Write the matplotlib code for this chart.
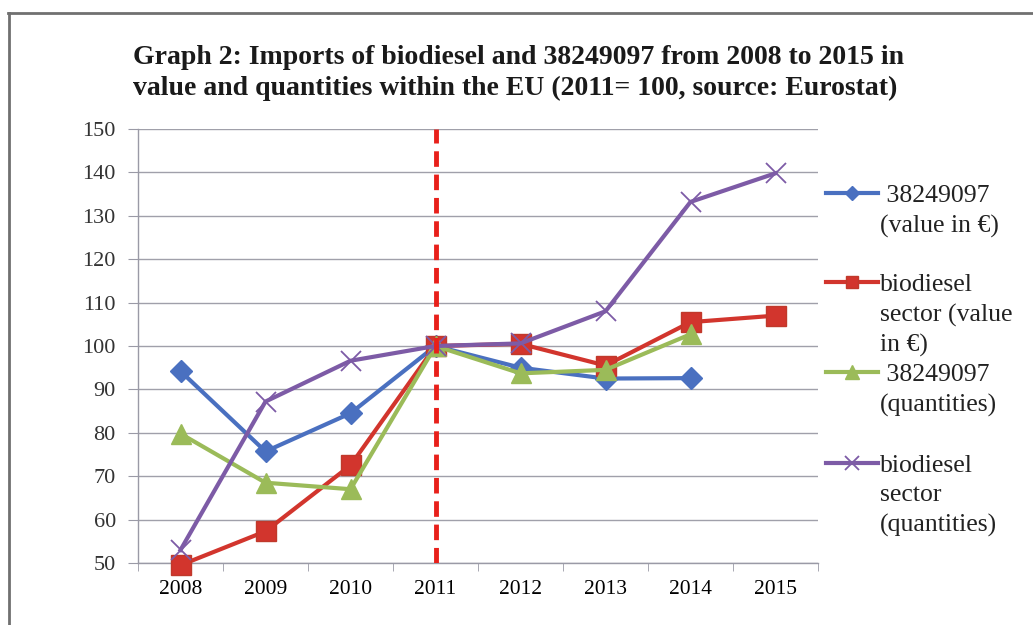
import matplotlib
matplotlib.use("Agg")
import matplotlib.pyplot as plt
from matplotlib.lines import Line2D
import numpy as np

years = ["2008", "2009", "2010", "2011", "2012", "2013", "2014", "2015"]
val_382 = [94.2, 75.7, 84.5, 100.0, 95.0, 92.5, 92.6, None]
val_bio = [49.5, 57.3, 72.5, 100.0, 100.5, 95.5, 105.5, 107.0]
qty_382 = [79.8, 68.5, 67.0, 100.0, 93.7, 94.5, 102.7, None]
qty_bio = [53.0, 87.2, 96.6, 100.0, 100.6, 108.0, 133.2, 139.8]
labels = [" 38249097\n(value in €)", "biodiesel\nsector (value\nin €)",
          " 38249097\n(quantities)", "biodiesel\nsector\n(quantities)"]
title = ("Graph 2: Imports of biodiesel and 38249097 from 2008 to 2015 in\n"
         "value and quantities within the EU (2011= 100, source: Eurostat)")
ref_year = "2011"

SERIF = ["Liberation Serif", "DejaVu Serif"]
plt.rcParams["font.family"] = SERIF

W, H = 1033, 625
fig = plt.figure(figsize=(W / 100, H / 100), dpi=100)
ax = fig.add_axes([138 / W, 1 - 563 / H, (818 - 138) / W, (563 - 129) / H])

x = np.arange(len(years))
def arr(v):
    return np.array([np.nan if a is None else a for a in v], dtype=float)

styles = [
    dict(color="#4A70C0", marker="D", ms=11, mec="#4A70C0", mew=1),
    dict(color="#D2352D", marker="s", ms=14, mec="#C0392B", mew=1),
    dict(color="#9BBB59", marker="^", ms=15, mec="#9BBB59", mew=1),
    dict(color="#7D5BA6", marker="x", ms=15, mec="#7D5BA6", mew=1.3),
]
series = [val_382, val_bio, qty_382, qty_bio]
for s, st in zip(series, styles):
    ax.plot(x, arr(s), lw=3, clip_on=False, zorder=3, **st)

ax.axvline(years.index(ref_year), color="#E8201A", lw=3.5, ls=(0, (3.2, 1.6)), zorder=4)

ax.set_xlim(-0.5, len(years) - 0.5)
ax.set_ylim(50, 150)
ax.set_yticks(np.arange(50, 151, 10))
ax.set_xticks(x)
ax.set_xticklabels(years)
ax.set_xticks(np.arange(-0.5, len(years), 1), minor=True)
ax.tick_params(axis="x", which="major", length=0, pad=12, labelsize=15.5)
ax.tick_params(axis="x", which="minor", length=6, color="#9A9AA6", direction="out")
ax.tick_params(axis="y", length=7, color="#9A9AA6", labelsize=16, pad=9)
for lab in ax.get_yticklabels():
    lab.set_color("#333333")
ax.grid(axis="y", color="#A0A0AA", lw=1)
ax.set_axisbelow(True)
for sp in ["top", "right"]:
    ax.spines[sp].set_visible(False)
for sp in ["left", "bottom"]:
    ax.spines[sp].set_color("#9A9AA6")
    ax.spines[sp].set_linewidth(1)

fig.text(133 / W, 1 - 45 / H, title, fontsize=20, fontweight="bold",
         va="top", ha="left", linespacing=1.3, color="#1a1a1a")

# legend (manual placement to align handle with first text line)
handle_y = [193, 282, 372, 463]
for st, lab, hy in zip(styles, labels, handle_y):
    yf = 1 - hy / H
    line = Line2D([826 / W, 878 / W], [yf, yf], transform=fig.transFigure,
                  color=st["color"], lw=3)
    fig.add_artist(line)
    mk = Line2D([852 / W], [yf], transform=fig.transFigure, color=st["color"],
                marker=st["marker"], ms=st["ms"] * 0.65, mec=st["mec"],
                mew=st["mew"], lw=0)
    fig.add_artist(mk)
    fig.text(880 / W, 1 - (hy - 8) / H, lab, fontsize=18.5, va="top", ha="left",
             linespacing=1.42, color="#222222")

# outer frame
fig.add_artist(Line2D([8 / W, 1], [1 - 13 / H, 1 - 13 / H], transform=fig.transFigure,
                      color="#707070", lw=2))
fig.add_artist(Line2D([9 / W, 9 / W], [0, 1 - 13 / H], transform=fig.transFigure,
                      color="#707070", lw=2))

fig.savefig("out.png", dpi=100)
